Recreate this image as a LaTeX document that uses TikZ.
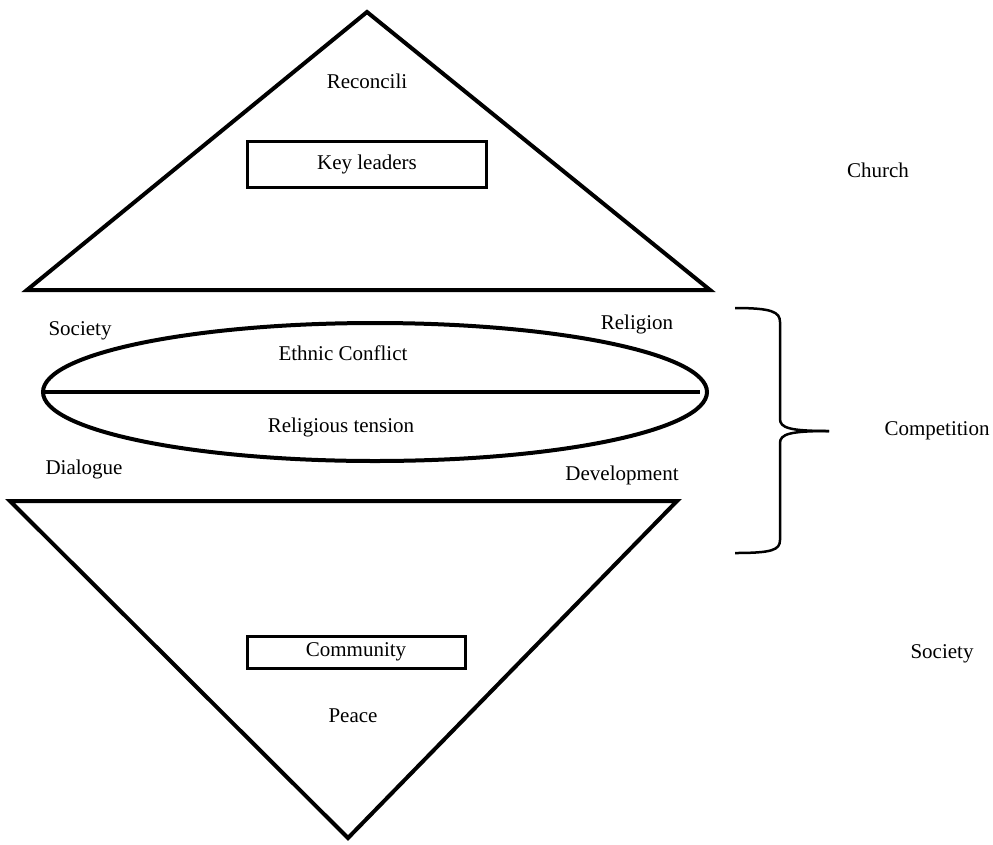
\documentclass[tikz,border=0pt]{standalone}
\usepackage{fontspec}
\setmainfont{Liberation Serif}
\usetikzlibrary{shapes.geometric}

\begin{document}
\begin{tikzpicture}[x=1pt, y=-1pt, line width=4pt, line join=miter]

    \tikzset{label/.style={%
      inner sep=0pt,%
      font=\fontsize{21}{25}\selectfont}%
    };

    \tikzset{keybox/.style={label, draw, line width=3pt, rectangle}};

    \useasboundingbox (0, 0) rectangle (993, 844);

    %%%%%%%%%%%%%%%
    %   church    %
    %%%%%%%%%%%%%%%
    \path (367, 12) coordinate (ctop);
    \path (27, 290) coordinate (cleft);
    \path (710, 290) coordinate (cright);
    \draw (ctop) -- (cright) -- (cleft) -- cycle;

    \node [label] (rec) at (367, 81) {Reconcili};
    \node [keybox, minimum width=239pt, minimum height=46pt] (key) at (367, 164) {Key leaders};
    \node [label] (chu) at (878, 170) {Church};

    %%%%%%%%%%%%%%%
    %  conflict   %
    %%%%%%%%%%%%%%%
    \node [draw, ellipse, minimum width=664pt, minimum height=138pt] (con) at (375, 392) {};
    \draw (con.west) -- ([xshift=-9pt]con.east);

    \node [label] (soc) at (80, 331) {Society};
    \node [label] (rel) at (637, 324) {Religion};
    \node [label] (eth) at (343, 353) {Ethnic Conflict};
    \node [label] (ten) at (341, 427) {Religious tension};
    \node [label] (dia) at (84, 469) {Dialogue};
    \node [label] (dev) at (622, 475) {Development};

    %%%%%%%%%%%%%%%
    %   society   %
    %%%%%%%%%%%%%%%
    \path (10, 501) coordinate (sleft);
    \path (677, 501) coordinate (sright);
    \path (348, 838) coordinate (sbot);
    \draw (sleft) -- (sright) -- (sbot) -- cycle;

    \node [keybox, minimum width=218pt, minimum height=32pt] (com) at (356, 652) {Community};
    \node [label] (pea) at (353, 716) {Peace};
    \node [label] (sor) at (942, 654) {Society};

    %%%%%%%%%%%%%%%
    %    brace    %
    %%%%%%%%%%%%%%%
    \path (829, 431) coordinate (tip);
    \node [label] (cmp) at (937, 431) {Competition};
    \draw [line width=2.5pt] (735, 308) .. controls (772, 308) and (780, 312) .. (780, 322)
      -- (780, 419) .. controls (780, 428) and (790, 431) .. (tip);
    \draw [line width=2.5pt] (tip) .. controls (790, 431) and (780, 434) .. (780, 443)
      -- (780, 540) .. controls (780, 550) and (772, 553) .. (735, 553);

\end{tikzpicture}
\end{document}
